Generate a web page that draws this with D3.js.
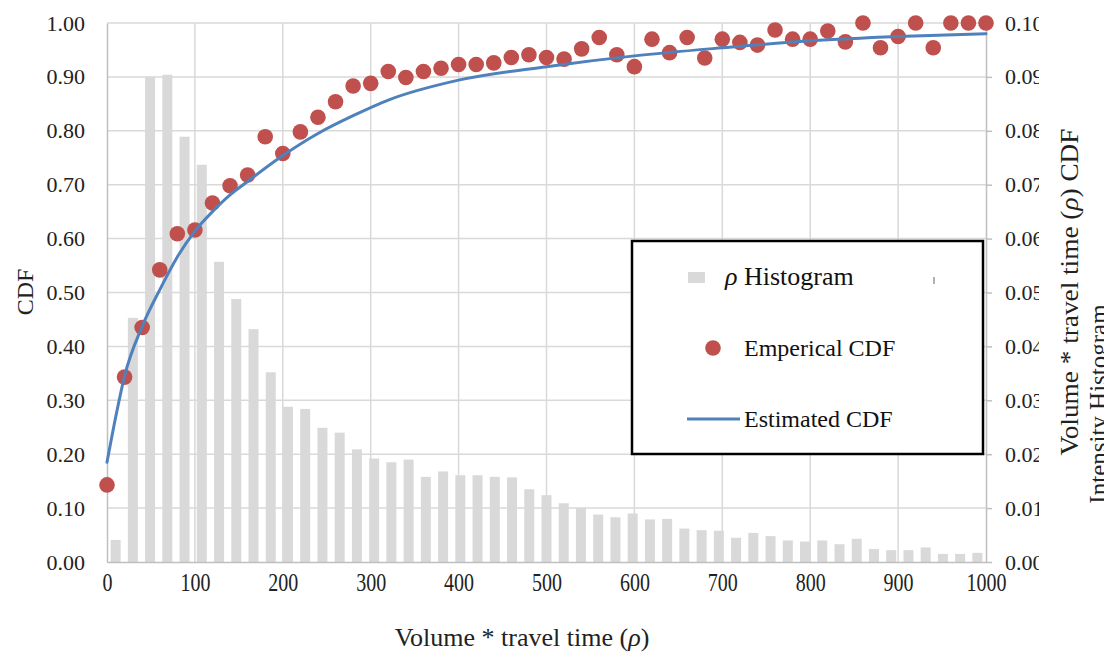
<!DOCTYPE html>
<html>
<head>
<meta charset="utf-8">
<script src="https://cdn.jsdelivr.net/npm/d3@7"></script>
<style>
	html, body { margin: 0; padding: 0; background: #fff; }
	svg { display: block; }
</style>
</head>
<body>
<div id="chart"></div>
<script>
// Histogram bins / scatter positions (rho, step 20)
const rhoBins = [
	0, 20, 40, 60, 80, 100, 120, 140, 160, 180,
	200, 220, 240, 260, 280, 300, 320, 340, 360, 380,
	400, 420, 440, 460, 480, 500, 520, 540, 560, 580,
	600, 620, 640, 660, 680, 700, 720, 740, 760, 780,
	800, 820, 840, 860, 880, 900, 920, 940, 960, 980, 1000,
];

// Intensity histogram (right axis)
const histValues = [
	0.0041, 0.0453, 0.0900, 0.0904, 0.0789, 0.0737, 0.0557, 0.0488, 0.0432, 0.0352,
	0.0288, 0.0284, 0.0249, 0.0240, 0.0209, 0.0192, 0.0185, 0.0190, 0.0158, 0.0168,
	0.0161, 0.0161, 0.0158, 0.0157, 0.0135, 0.0124, 0.0109, 0.0100, 0.0088, 0.0083,
	0.0090, 0.0079, 0.0080, 0.0062, 0.0059, 0.0058, 0.0045, 0.0054, 0.0048, 0.0040,
	0.0038, 0.0040, 0.0033, 0.0043, 0.0024, 0.0022, 0.0022, 0.0027, 0.0015, 0.0015,
	0.0017,
];

// Empirical CDF (left axis)
const empiricalCdf = [
	0.143, 0.343, 0.435, 0.542, 0.609, 0.616, 0.666, 0.698, 0.718, 0.789,
	0.758, 0.798, 0.825, 0.854, 0.883, 0.888, 0.910, 0.899, 0.910, 0.916,
	0.923, 0.923, 0.926, 0.936, 0.941, 0.936, 0.933, 0.952, 0.973, 0.941,
	0.919, 0.970, 0.945, 0.973, 0.935, 0.970, 0.964, 0.959, 0.987, 0.970,
	0.970, 0.985, 0.965, 1.000, 0.954, 0.975, 1.000, 0.954, 1.000, 1.000,
	1.000,
];

// Estimated CDF
const estX = [0, 10, 20, 40, 60, 80, 100, 120, 140, 160, 200, 240, 280, 320, 400, 500, 600, 700, 800, 900, 1000];
const estY = [0.185, 0.27, 0.345, 0.437, 0.505, 0.566, 0.614, 0.650, 0.681, 0.706, 0.754, 0.795, 0.828, 0.857, 0.894, 0.919, 0.939, 0.954, 0.967, 0.975, 0.980];

// Axis ticks
const rhoTicks = [0, 100, 200, 300, 400, 500, 600, 700, 800, 900, 1000];
const cdfTicks = [0, 0.1, 0.2, 0.3, 0.4, 0.5, 0.6, 0.7, 0.8, 0.9, 1.0];
const histTicks = [0, 0.01, 0.02, 0.03, 0.04, 0.05, 0.06, 0.07, 0.08, 0.09, 0.10];

const width = 1104;
const height = 654;
const margin = { left: 107, right: 118, top: 23, bottom: 92 };
const serif = "'Liberation Serif', 'Times New Roman', serif";
const gridColor = "#d9d9d9";
const axisColor = "#bfbfbf";
const red = "#c0504d";
const blue = "#4f81bd";

const x = d3.scaleLinear().domain([0, 1000]).range([margin.left, width - margin.right]);
const xBand = d3
	.scaleBand()
	.domain(rhoBins)
	.range([margin.left, width - margin.right])
	.paddingInner(0.42)
	.paddingOuter(0.21);
const yL = d3.scaleLinear().domain([0, 1]).range([height - margin.bottom, margin.top]);
const yR = d3.scaleLinear().domain([0, 0.1]).range([height - margin.bottom, margin.top]);

const svg = d3
	.select("#chart")
	.append("svg")
	.attr("width", width)
	.attr("height", height)
	.attr("font-family", serif);

svg.append("rect").attr("width", width).attr("height", height).attr("fill", "#fff");

// Gridlines
svg.append("g")
	.selectAll("line")
	.data(cdfTicks.slice(1))
	.join("line")
	.attr("x1", x(0))
	.attr("x2", x(1000))
	.attr("y1", (d) => yL(d))
	.attr("y2", (d) => yL(d))
	.attr("stroke", gridColor)
	.attr("stroke-width", 1.5);

svg.append("g")
	.selectAll("line")
	.data(rhoTicks.slice(1, -1))
	.join("line")
	.attr("x1", (d) => x(d))
	.attr("x2", (d) => x(d))
	.attr("y1", yL(1))
	.attr("y2", yL(0))
	.attr("stroke", gridColor)
	.attr("stroke-width", 1.5);

// Histogram bars
svg.append("g")
	.selectAll("rect")
	.data(rhoBins.map((b, i) => ({ bin: b, value: histValues[i] })))
	.join("rect")
	.attr("x", (d) => xBand(d.bin))
	.attr("width", xBand.bandwidth())
	.attr("y", (d) => yR(d.value))
	.attr("height", (d) => yR(0) - yR(d.value))
	.attr("fill", "#d9d9d9");

// Left axis
svg.append("g")
	.attr("transform", `translate(${x(0)},0)`)
	.call(
		d3.axisLeft(yL)
			.tickValues(cdfTicks)
			.tickFormat(d3.format(".2f"))
			.tickSize(0)
			.tickSizeOuter(0)
			.tickPadding(22)
	)
	.call((g) => g.select(".domain").attr("stroke", axisColor).attr("stroke-width", 1.5))
	.call((g) =>
		g.selectAll(".tick text")
			.attr("font-family", serif)
			.attr("font-size", 22)
			.attr("fill", "#222")
	);

// Right axis (labels are cut off at the picture edge in the original)
svg.append("clipPath")
	.attr("id", "rclip")
	.append("rect")
	.attr("x", -2)
	.attr("y", 0)
	.attr("width", 1039 - x(1000) + 2)
	.attr("height", height);

svg.append("g")
	.attr("transform", `translate(${x(1000)},0)`)
	.attr("clip-path", "url(#rclip)")
	.call(
		d3.axisRight(yR)
			.tickValues(histTicks)
			.tickFormat(d3.format(".2f"))
			.tickSize(6)
			.tickSizeOuter(0)
			.tickPadding(13)
	)
	.call((g) => g.select(".domain").attr("stroke", axisColor).attr("stroke-width", 1.5))
	.call((g) => g.selectAll(".tick line").attr("stroke", axisColor).attr("stroke-width", 1.5))
	.call((g) =>
		g.selectAll(".tick text")
			.attr("font-family", serif)
			.attr("font-size", 22)
			.attr("fill", "#222")
	);

// Bottom axis
const xAxis = svg
	.append("g")
	.attr("transform", `translate(0,${yL(0)})`)
	.call(
		d3.axisBottom(x)
			.tickValues(rhoTicks)
			.tickFormat(d3.format("d"))
			.tickSize(0)
			.tickSizeOuter(0)
	)
	.call((g) => g.select(".domain").attr("stroke", axisColor).attr("stroke-width", 1.5));

xAxis.selectAll(".tick text")
	.attr("font-family", serif)
	.attr("font-size", 20)
	.attr("fill", "#222")
	.attr("y", 20 / 1.3)
	.attr("dy", "0.35em")
	.attr("transform", "scale(1,1.3)");

// Empirical CDF dots
svg.append("g")
	.selectAll("circle")
	.data(rhoBins.map((b, i) => ({ rho: b, cdf: empiricalCdf[i] })))
	.join("circle")
	.attr("cx", (d) => x(d.rho))
	.attr("cy", (d) => yL(d.cdf))
	.attr("r", 7.8)
	.attr("fill", red);

// Estimated CDF line
svg.append("path")
	.datum(estX.map((v, i) => [v, estY[i]]))
	.attr("fill", "none")
	.attr("stroke", blue)
	.attr("stroke-width", 3)
	.attr("stroke-linecap", "round")
	.attr(
		"d",
		d3.line()
			.x((d) => x(d[0]))
			.y((d) => yL(d[1]))
			.curve(d3.curveMonotoneX)
	);

// Axis titles
svg.append("text")
	.attr("transform", `translate(33,292) rotate(-90)`)
	.attr("text-anchor", "middle")
	.attr("font-size", 24)
	.attr("fill", "#222")
	.text("CDF");

const xTitle = svg
	.append("text")
	.attr("x", 522)
	.attr("y", 646)
	.attr("text-anchor", "middle")
	.attr("font-size", 26)
	.attr("fill", "#222");
xTitle.append("tspan").text("Volume * travel time (");
xTitle.append("tspan").attr("font-style", "italic").text("ρ");
xTitle.append("tspan").text(")");

const rTitle = svg
	.append("text")
	.attr("transform", `translate(1078,292) rotate(-90)`)
	.attr("text-anchor", "middle")
	.attr("font-size", 25)
	.attr("fill", "#222")
	.attr("textLength", 327)
	.attr("lengthAdjust", "spacingAndGlyphs");
rTitle.append("tspan").text("Volume * travel time (");
rTitle.append("tspan").attr("font-style", "italic").text("ρ");
rTitle.append("tspan").text(") CDF");

// second title line, cut by the picture edge as in the original
svg.append("text")
	.attr("transform", `translate(1107,404) rotate(-90)`)
	.attr("text-anchor", "middle")
	.attr("font-size", 25)
	.attr("fill", "#222")
	.text("Intensity Histogram");

// Legend
const legend = svg.append("g");
legend.append("rect")
	.attr("x", 632)
	.attr("y", 241)
	.attr("width", 351)
	.attr("height", 213)
	.attr("fill", "#fff")
	.attr("stroke", "#000")
	.attr("stroke-width", 2.5);

legend.append("rect")
	.attr("x", 688)
	.attr("y", 272)
	.attr("width", 17)
	.attr("height", 11)
	.attr("fill", "#d9d9d9");
const histLabel = legend
	.append("text")
	.attr("x", 725)
	.attr("y", 285)
	.attr("font-size", 26)
	.attr("fill", "#111");
histLabel.append("tspan").attr("font-style", "italic").text("ρ");
histLabel.append("tspan").text(" Histogram");
legend.append("line")
	.attr("x1", 934)
	.attr("x2", 934)
	.attr("y1", 277)
	.attr("y2", 284)
	.attr("stroke", "#666")
	.attr("stroke-width", 1);

legend.append("circle").attr("cx", 713).attr("cy", 348).attr("r", 7.8).attr("fill", red);
legend.append("text")
	.attr("x", 744)
	.attr("y", 356)
	.attr("font-size", 24)
	.attr("fill", "#111")
	.text("Emperical CDF");

legend.append("line")
	.attr("x1", 687)
	.attr("x2", 740)
	.attr("y1", 419)
	.attr("y2", 419)
	.attr("stroke", blue)
	.attr("stroke-width", 3);
legend.append("text")
	.attr("x", 744)
	.attr("y", 427)
	.attr("font-size", 24)
	.attr("fill", "#111")
	.text("Estimated CDF");
</script>
</body>
</html>
